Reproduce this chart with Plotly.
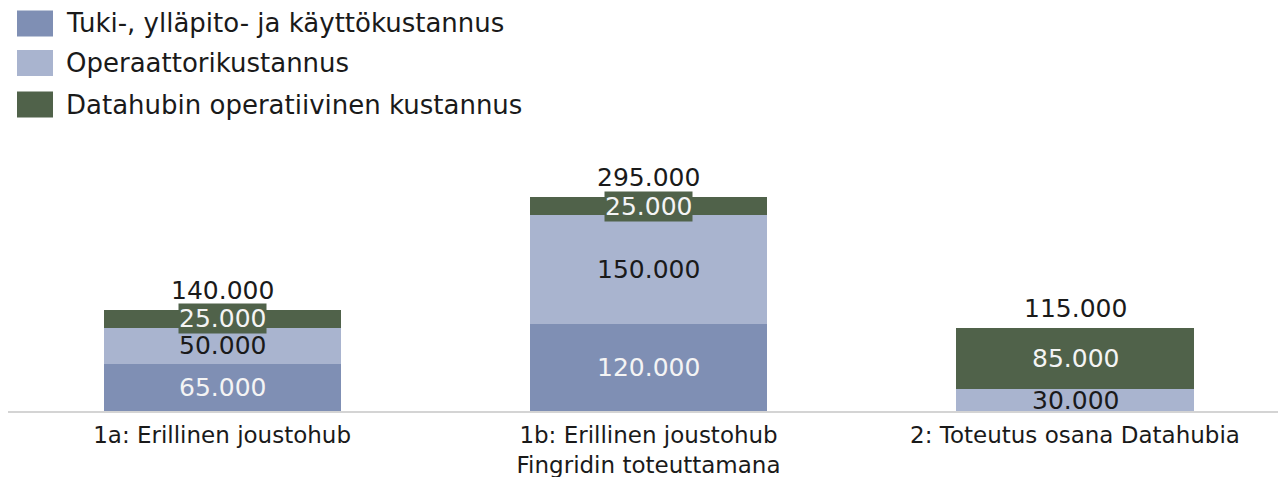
import plotly.graph_objects as go

# ---- data ----
categories = ["1a: Erillinen joustohub",
              "1b: Erillinen joustohub<br>Fingridin toteuttamana",
              "2: Toteutus osana Datahubia"]
series_names = ["Tuki-, ylläpito- ja käyttökustannus",
                "Operaattorikustannus",
                "Datahubin operatiivinen kustannus"]
tuki = [65000, 120000, 0]
operaattori = [50000, 150000, 30000]
datahub = [25000, 25000, 85000]

# ---- styles ----
colors = ["#7f8fb4", "#a9b4cf", "#50624a"]
label_colors = ["#f4f4f4", "#1a1a1a", "#f4f4f4"]
FONT = "DejaVu Sans"
W, H = 1278, 477
ML, MR, MT, MB = 8, 0, 150, 66
PW, PH = W - ML - MR, H - MT - MB
YMAX = 360000

series = [tuki, operaattori, datahub]

def fmt(v):
    return f"{v:,}".replace(",", ".")

fig = go.Figure()
for name, vals, col in zip(series_names, series, colors):
    fig.add_trace(go.Bar(x=categories, y=vals, name=name, marker_color=col,
                         marker_line_width=0, width=0.556, showlegend=False,
                         hoverinfo="skip"))

annotations = []
# segment labels
for ci, cat in enumerate(categories):
    base = 0
    for si, vals in enumerate(series):
        v = vals[ci]
        if v > 0:
            thin = v * PH / YMAX < 26
            annotations.append(dict(
                x=cat, y=base + v / 2, xref="x", yref="y", text=fmt(v),
                showarrow=False, font=dict(family=FONT, size=25, color=label_colors[si]),
                bgcolor=colors[si] if thin and si == 2 else None,
                borderpad=0, yanchor="middle"))
        base += v
    total = base
    annotations.append(dict(
        x=cat, y=total, xref="x", yref="y", text=fmt(total), showarrow=False,
        font=dict(family=FONT, size=25, color="#1a1a1a"), yanchor="bottom", yshift=3))

# custom legend (large swatches)
legend_y = [23.5, 63, 104.5]
shapes = []
for name, col, yp in zip(series_names, colors, legend_y):
    y0 = (H - MB - (yp - 13)) / PH
    y1 = (H - MB - (yp + 13)) / PH
    shapes.append(dict(type="rect", xref="paper", yref="paper",
                       x0=(17 - ML) / PW, x1=(53 - ML) / PW, y0=y1, y1=y0,
                       fillcolor=col, line_width=0))
    annotations.append(dict(x=(64 - ML) / PW, y=(H - MB - yp) / PH, xref="paper", yref="paper",
                            text=name, showarrow=False, xanchor="left", yanchor="middle",
                            font=dict(family=FONT, size=26, color="#1a1a1a")))

fig.update_layout(
    barmode="stack",
    width=W, height=H,
    margin=dict(l=ML, r=MR, t=MT, b=MB, autoexpand=False),
    paper_bgcolor="white", plot_bgcolor="white",
    font=dict(family=FONT, color="#1a1a1a"),
    showlegend=False,
    xaxis=dict(type="category", range=[-0.502, 2.476], showline=True, linecolor="#d4d4d4",
               linewidth=2, ticks="", showgrid=False, ticklabelstandoff=2, automargin=False,
               tickfont=dict(family=FONT, size=23, color="#1a1a1a")),
    yaxis=dict(range=[0, YMAX], visible=False, showgrid=False, zeroline=False, automargin=False),
    annotations=annotations,
    shapes=shapes,
)

fig.write_html("out.html", config={"displayModeBar": False},
               post_script="document.body.style.margin='0';document.body.style.overflow='hidden';")
